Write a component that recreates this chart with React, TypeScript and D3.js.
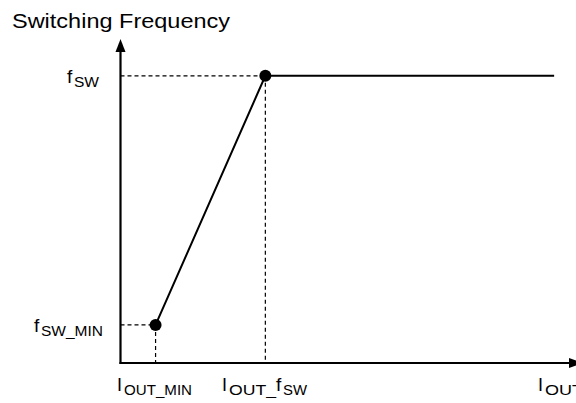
import React from "react";
import * as d3 from "d3";

// Schematic values (arbitrary units, 0..100)
const xDomain: [number, number] = [0, 100];
const yDomain: [number, number] = [0, 100];
const pointX = [7.7, 31.8];          // I_OUT_MIN, I_OUT_fSW
const pointY = [11.8, 88.9];         // f_SW_MIN, f_SW
const lineEndX = 95.2;
const title = "Switching Frequency";
const yTickMain = ["f", "f"];
const yTickSub = ["SW_MIN", "SW"];

const W = 576, H = 403;
const FONT = "'Liberation Sans', Arial, sans-serif";

export default function App() {
  const x = d3.scaleLinear().domain(xDomain).range([120.5, 576]);
  const y = d3.scaleLinear().domain(yDomain).range([363, 40]);

  const curve = d3.line<[number, number]>().x(d => x(d[0])).y(d => y(d[1]));
  const pts: [number, number][] = [
    [pointX[0], pointY[0]],
    [pointX[1], pointY[1]],
    [lineEndX, pointY[1]],
  ];

  const x0 = x(0), y0 = y(0);

  return (
    <svg width={W} height={H} style={{ position: "absolute", left: 0, top: 0, background: "#fff" }}>
      <rect width={W} height={H} fill="#fff" />
      {/* title */}
      <text x={12} y={28} fontFamily={FONT} fontSize={21} textLength={218} lengthAdjust="spacingAndGlyphs">{title}</text>

      {/* dashed guides */}
      <g stroke="#000" strokeWidth={1.2} strokeDasharray="4,3" fill="none">
        <line x1={x0} x2={x(pointX[1])} y1={y(pointY[1])} y2={y(pointY[1])} />
        <line x1={x(pointX[1])} x2={x(pointX[1])} y1={y(pointY[1])} y2={y0} />
        <line x1={x0} x2={x(pointX[0])} y1={y(pointY[0])} y2={y(pointY[0])} />
        <line x1={x(pointX[0])} x2={x(pointX[0])} y1={y(pointY[0])} y2={y0} />
      </g>

      {/* axes */}
      <line x1={x0} x2={x0} y1={y0 + 1} y2={50} stroke="#000" strokeWidth={2.2} />
      <path d={`M${x0},${39} L${x0 - 5},${52} L${x0 + 5},${52} Z`} fill="#000" />
      <line x1={x0 - 1} x2={570} y1={y0} y2={y0} stroke="#000" strokeWidth={2.2} />
      <path d={`M${583},${y0} L${569},${y0 - 5} L${569},${y0 + 5} Z`} fill="#000" />

      {/* curve */}
      <path d={curve(pts) || ""} stroke="#000" strokeWidth={2} fill="none" />
      {pointX.map((px, i) => (
        <circle key={i} cx={x(px)} cy={y(pointY[i])} r={6} fill="#000" />
      ))}

      {/* y labels */}
      <g fontFamily={FONT} fill="#000">
        <text x={67} y={83} fontSize={19}>{yTickMain[1]}</text>
        <text x={74} y={87} fontSize={14} textLength={25} lengthAdjust="spacingAndGlyphs">{yTickSub[1]}</text>
        <text x={34} y={332} fontSize={19}>{yTickMain[0]}</text>
        <text x={41} y={336} fontSize={14} textLength={62} lengthAdjust="spacingAndGlyphs">{yTickSub[0]}</text>
      </g>

      {/* x labels */}
      <g fontFamily={FONT} fill="#000">
        <text x={117} y={391} fontSize={18}>I</text>
        <text x={124} y={395} fontSize={14} textLength={68} lengthAdjust="spacingAndGlyphs">OUT_MIN</text>
        <text x={222} y={391} fontSize={18}>I</text>
        <text x={229} y={395} fontSize={14} textLength={47} lengthAdjust="spacingAndGlyphs">OUT_</text>
        <text x={276} y={391} fontSize={19}>f</text>
        <text x={283} y={395} fontSize={14} textLength={24} lengthAdjust="spacingAndGlyphs">SW</text>
        <text x={538} y={391} fontSize={18}>I</text>
        <text x={545} y={395} fontSize={14} textLength={38} lengthAdjust="spacingAndGlyphs">OUT</text>
      </g>
    </svg>
  );
}
